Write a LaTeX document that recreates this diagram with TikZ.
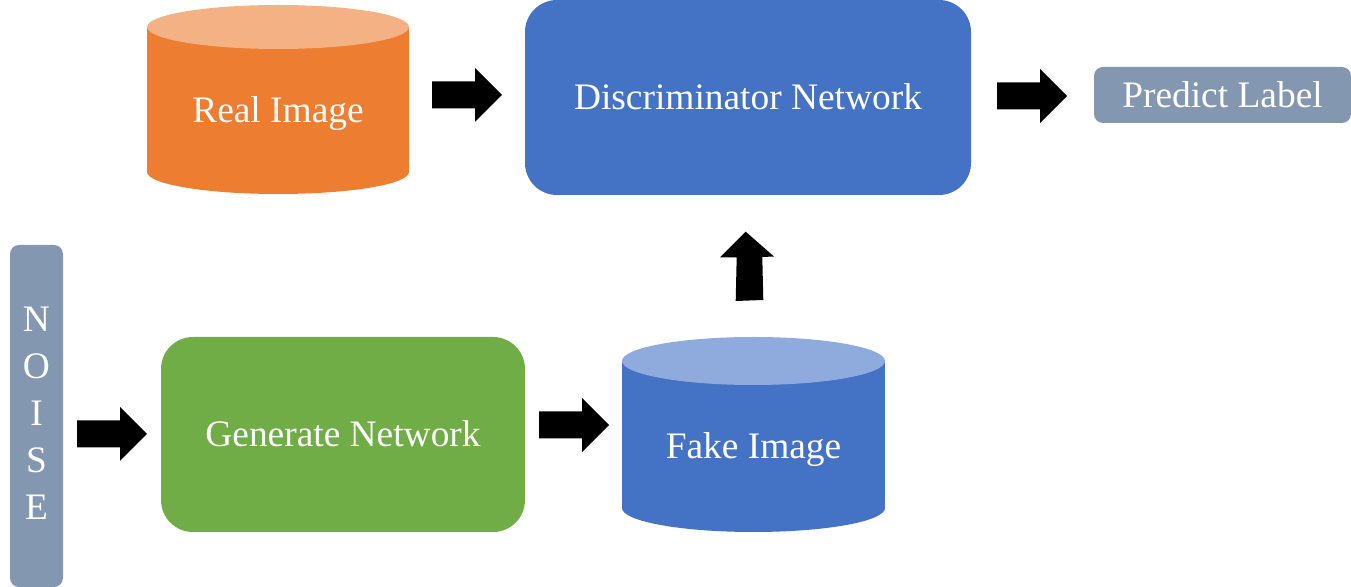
\documentclass[tikz,border=0pt]{standalone}
\usepackage{fontspec}
\setmainfont{Liberation Serif}
\definecolor{cOrange}{HTML}{ED7D31}
\definecolor{cOrangeLt}{HTML}{F4B183}
\definecolor{cBlue}{HTML}{4472C4}
\definecolor{cBlueLt}{HTML}{8FAADC}
\definecolor{cGreen}{HTML}{70AD47}
\definecolor{cSlate}{HTML}{8497B0}
\tikzset{
  lbl/.style={text=white, font=\fontsize{18.7}{23.5}\selectfont, inner sep=0pt, text height=12.4pt, text depth=0pt},
  bigbox/.style={lbl, rounded corners=16pt},
  smallbox/.style={lbl, rounded corners=4.5pt},
  rarrow/.pic={\fill[black] (0,-13.5)--(43,-13.5)--(43,-27)--(70,0)--(43,27)--(43,13.5)--(0,13.5)--cycle;}
}
\begin{document}
\begin{tikzpicture}[x=0.5pt,y=-0.5pt]
\useasboundingbox (0,0) rectangle (1351,587);
% Real Image cylinder
\fill[cOrange] (147,27) rectangle (409,172);
\fill[cOrange] (278,172) ellipse [x radius=131, y radius=22];
\fill[cOrangeLt] (278,27) ellipse [x radius=131, y radius=22];
\node[lbl] (real) at (278,110.5) {Real Image};
% Discriminator
\node[bigbox, fill=cBlue, minimum width=223pt, minimum height=97.5pt] (disc) at (748,97.5) {Discriminator Network};
% Predict label
\node[smallbox, fill=cSlate, minimum width=128.5pt, minimum height=28pt] (pred) at (1222.5,95) {Predict Label};
% Noise
\node[fill=cSlate, rounded corners=4.5pt, minimum width=26.5pt, minimum height=171pt, inner sep=0pt] (noisebox) at (36.5,416) {};
\node[text=white, font=\fontsize{18.7}{23.5}\selectfont, align=center, inner sep=0pt, anchor=base] (noise) at (36.5,520) {N\\O\\I\\S\\E};
% Generate
\node[bigbox, fill=cGreen, minimum width=182pt, minimum height=97.5pt] (gen) at (343,434.5) {Generate Network};
% Fake Image cylinder
\fill[cBlue] (622,361) rectangle (885,508);
\fill[cBlue] (753.5,508) ellipse [x radius=131.5, y radius=24];
\fill[cBlueLt] (753.5,361) ellipse [x radius=131.5, y radius=24];
\node[lbl] (fake) at (753.5,446) {Fake Image};
% Block arrows
\pic at (432,95) {rarrow};
\pic at (997,96) {rarrow};
\pic at (77,434) {rarrow};
\pic at (539,425) {rarrow};
\fill[black] (735.7,301) -- (763.3,300) -- (762.3,257) -- (774,256.5) -- (745.7,231.7) -- (720,257.5) -- (736.7,257.3) -- cycle;
\end{tikzpicture}
\end{document}
